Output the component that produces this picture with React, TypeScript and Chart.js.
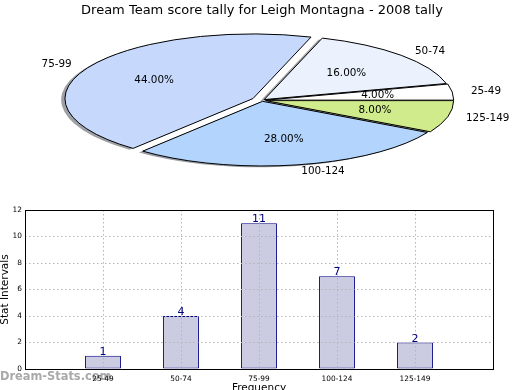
import React, { useEffect, useRef } from 'react';
import { Chart, registerables } from 'chart.js';

Chart.register(...registerables);

// ---- data ----
const chartTitle = 'Dream Team score tally for Leigh Montagna - 2008 tally';
const categories = ['25-49', '50-74', '75-99', '100-124', '125-149'];
const counts = [1, 4, 11, 7, 2];
const yTickValues = [0, 2, 4, 6, 8, 10, 12];
const yAxisLabel = 'Stat Intervals';
const xAxisLabel = 'Frequency';
const watermarkText = 'Dream-Stats.com';

// ---- style ----
const FONT = "'DejaVu Sans', Verdana, sans-serif";
const SLICE_COLORS = ['#ffffff', '#ebf2fe', '#c6d9fd', '#b3d5fd', '#d0eb8c'];
const EXPLODE = [0.02, 0.016, 0.055, 0.016, 0.02];
const PIE_RADIUS = 188;
const PIE_SQUASH = 0.344;
const GRID_COLOR = '#b4b4b4';

function shadowOf(hex: string): string {
  const n = parseInt(hex.slice(1), 16);
  const r = Math.round(((n >> 16) & 255) * 0.3);
  const g = Math.round(((n >> 8) & 255) * 0.3);
  const b = Math.round((n & 255) * 0.3);
  return `rgba(${r},${g},${b},0.5)`;
}

export default function App() {
  const pieRef = useRef<HTMLCanvasElement>(null);
  const barRef = useRef<HTMLCanvasElement>(null);

  useEffect(() => {
    const pieLabels = [...categories].reverse();
    const pieValues = [...counts].reverse();
    const pieColors = [...SLICE_COLORS].reverse();
    const pieExplode = [...EXPLODE].reverse();
    const total = counts.reduce((a, b) => a + b, 0);

    const arcPath = (ctx: CanvasRenderingContext2D, el: any, i: number, dx: number, dy: number) => {
      const r = el.outerRadius;
      const mid = (el.startAngle + el.endAngle) / 2;
      const e = pieExplode[i] * r;
      ctx.save();
      ctx.translate(dx, dy);
      ctx.translate(el.x, el.y);
      ctx.scale(1, PIE_SQUASH);
      ctx.translate(Math.cos(mid) * e, Math.sin(mid) * e);
      ctx.beginPath();
      ctx.moveTo(0, 0);
      ctx.arc(0, 0, r, el.startAngle, el.endAngle);
      ctx.closePath();
      ctx.restore();
    };

    const piePlugin = {
      id: 'ellipsePie',
      beforeDatasetsDraw(chart: any) {
        const ctx: CanvasRenderingContext2D = chart.ctx;
        const arcs = chart.getDatasetMeta(0).data;
        arcs.forEach((el: any, i: number) => {
          const r = el.outerRadius;
          arcPath(ctx, el, i, -0.02 * r, 0.02 * r * PIE_SQUASH);
          ctx.fillStyle = shadowOf(pieColors[i]);
          ctx.fill();
        });
        arcs.forEach((el: any, i: number) => {
          const r = el.outerRadius;
          const mid = (el.startAngle + el.endAngle) / 2;
          const e = pieExplode[i] * r;
          ctx.save();
          ctx.translate(el.x, el.y);
          ctx.scale(1, PIE_SQUASH);
          ctx.translate(Math.cos(mid) * e, Math.sin(mid) * e);
          ctx.translate(-el.x, -el.y);
          el.draw(ctx);
          ctx.restore();
          arcPath(ctx, el, i, 0, 0);
          ctx.save();
          ctx.lineWidth = 1;
          ctx.strokeStyle = '#000';
          ctx.stroke();
          ctx.restore();
        });
        return false;
      },
      afterDraw(chart: any) {
        const ctx: CanvasRenderingContext2D = chart.ctx;
        const arcs = chart.getDatasetMeta(0).data;
        ctx.save();
        ctx.fillStyle = '#000';
        ctx.font = `10.4px ${FONT}`;
        ctx.textBaseline = 'middle';
        arcs.forEach((el: any, i: number) => {
          const r = el.outerRadius;
          const mid = (el.startAngle + el.endAngle) / 2;
          const e = pieExplode[i] * r;
          const c = Math.cos(mid);
          const s = Math.sin(mid);
          const lx = el.x + c * (1.1 * r + e);
          const ly = el.y + s * (1.1 * r + e) * PIE_SQUASH;
          ctx.textAlign = c > 0 ? 'left' : 'right';
          ctx.fillText(pieLabels[i], lx, ly);
          const px = el.x + c * (0.6 * r + e);
          const py = el.y + s * (0.6 * r + e) * PIE_SQUASH;
          ctx.textAlign = 'center';
          ctx.fillText(((pieValues[i] / total) * 100).toFixed(2) + '%', px, py);
        });
        ctx.restore();
      },
    };

    const pie = new Chart(pieRef.current!, {
      type: 'pie',
      data: {
        labels: pieLabels,
        datasets: [{ data: pieValues, backgroundColor: pieColors, borderWidth: 0 }],
      },
      options: {
        animation: false,
        responsive: false,
        events: [],
        rotation: 90,
        radius: PIE_RADIUS,
        layout: { padding: { left: 4, right: 0, top: 0, bottom: 0 } },
        plugins: {
          legend: { display: false },
          tooltip: { enabled: false },
          title: {
            display: true,
            text: chartTitle,
            color: '#000',
            font: { family: FONT, size: 13, weight: 'normal' },
            padding: { top: 3, bottom: 2 },
          },
        },
      } as any,
      plugins: [piePlugin],
    });

    const barPlugin = {
      id: 'barExtras',
      beforeDraw(chart: any) {
        const ctx: CanvasRenderingContext2D = chart.ctx;
        ctx.save();
        ctx.font = `bold 11.4px ${FONT}`;
        ctx.fillStyle = 'rgba(140,140,140,0.75)';
        ctx.textAlign = 'left';
        ctx.textBaseline = 'alphabetic';
        ctx.fillText(watermarkText, 0, chart.height - 10);
        ctx.restore();
      },
      afterDraw(chart: any) {
        const ctx: CanvasRenderingContext2D = chart.ctx;
        const { left, right, top, bottom } = chart.chartArea;
        ctx.save();
        ctx.strokeStyle = '#000';
        ctx.lineWidth = 1;
        ctx.strokeRect(Math.round(left) + 0.5, Math.round(top) + 0.5, Math.round(right - left), Math.round(bottom - top));
        const meta = chart.getDatasetMeta(0);
        const vals = chart.data.datasets[0].data;
        ctx.fillStyle = '#000080';
        ctx.font = `11px ${FONT}`;
        ctx.textAlign = 'center';
        ctx.textBaseline = 'alphabetic';
        meta.data.forEach((el: any, i: number) => {
          const v = vals[i];
          if (v === null || v === undefined) return;
          ctx.fillText(String(v), el.x, el.y - 1);
        });
        ctx.restore();
      },
    };

    const tickFont = { family: FONT, size: 7.4 };
    const bar = new Chart(barRef.current!, {
      type: 'bar',
      data: {
        labels: ['', ...categories, ''],
        datasets: [
          {
            data: [null, ...counts, null],
            backgroundColor: '#cbcbe2',
            borderColor: '#000080',
            borderWidth: 1,
            borderSkipped: false,
            barPercentage: 0.46,
            categoryPercentage: 1,
          },
        ],
      },
      options: {
        animation: false,
        responsive: false,
        events: [],
        layout: { padding: { top: 30, right: 27, left: 0, bottom: 0 } },
        plugins: {
          legend: { display: false },
          tooltip: { enabled: false },
          title: { display: false },
        },
        scales: {
          x: {
            type: 'category',
            offset: false,
            grid: { color: GRID_COLOR, lineWidth: 1, z: 1, drawTicks: false, offset: false },
            border: { display: false, dash: [1.5, 2.5] },
            ticks: { font: tickFont, color: '#000', padding: 6, maxRotation: 0, autoSkip: false },
            title: {
              display: true,
              text: xAxisLabel,
              color: '#000',
              font: { family: FONT, size: 10.5 },
              padding: { top: 0, bottom: -5 },
            },
            afterFit: (s: any) => {
              s.height = 21;
            },
          },
          y: {
            min: yTickValues[0],
            max: yTickValues[yTickValues.length - 1],
            grid: { color: GRID_COLOR, lineWidth: 1, z: 1, drawTicks: false },
            border: { display: false, dash: [1.5, 2.5] },
            ticks: { font: tickFont, color: '#000', padding: 3, stepSize: yTickValues[1] - yTickValues[0] },
            title: {
              display: true,
              text: yAxisLabel,
              color: '#000',
              font: { family: FONT, size: 10.5 },
              padding: { top: -1.2, bottom: 0 },
            },
            afterFit: (s: any) => {
              s.width = 25;
            },
          },
        },
      } as any,
      plugins: [barPlugin],
    });

    return () => {
      pie.destroy();
      bar.destroy();
    };
  }, []);

  return (
    <div style={{ position: 'absolute', left: 0, top: 0, width: 520, height: 390, background: '#fff', overflow: 'hidden' }}>
      <canvas ref={pieRef} width={520} height={180} style={{ position: 'absolute', left: 0, top: 0 }} />
      <canvas ref={barRef} width={520} height={210} style={{ position: 'absolute', left: 0, top: 180 }} />
    </div>
  );
}
